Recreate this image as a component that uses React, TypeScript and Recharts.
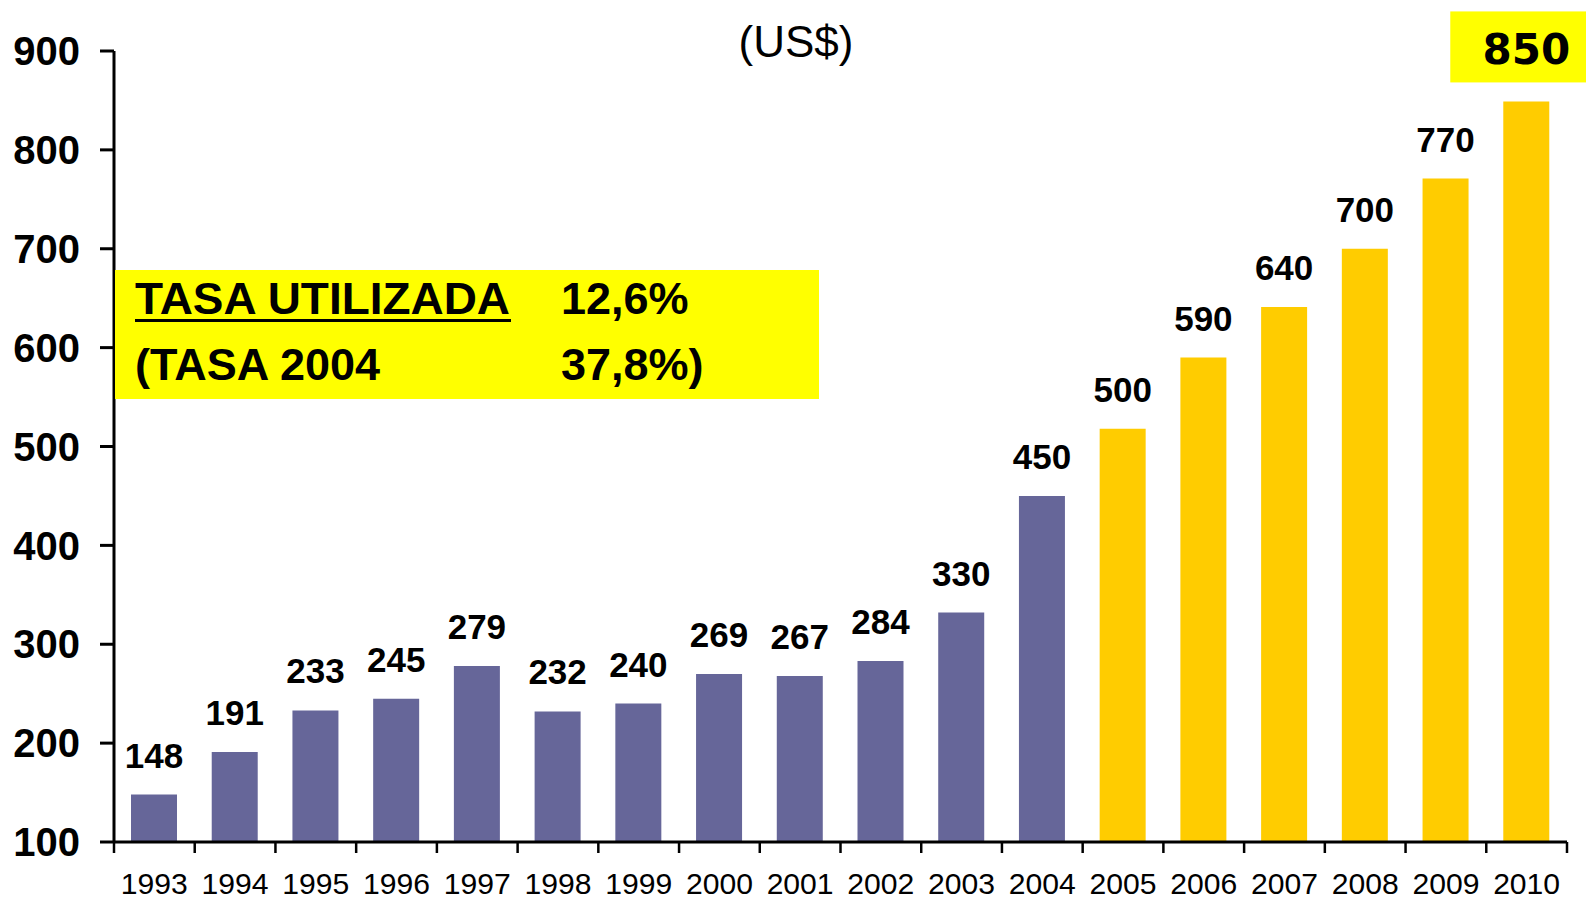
import React from 'react';
import { BarChart, Bar, XAxis, YAxis, Cell, LabelList } from 'recharts';

// ---- data ----
const years = ['1993', '1994', '1995', '1996', '1997', '1998', '1999', '2000', '2001', '2002', '2003', '2004', '2005', '2006', '2007', '2008', '2009', '2010'];
const values = [148, 191, 233, 245, 278, 232, 240, 270, 268, 283, 332, 450, 518, 590, 641, 700, 771, 849];
const valueLabels = ['148', '191', '233', '245', '279', '232', '240', '269', '267', '284', '330', '450', '500', '590', '640', '700', '770', '850'];
const firstProjectedYear = '2005';
const yTicks = [100, 200, 300, 400, 500, 600, 700, 800, 900];
const titleText = '(US$)';
const noteLabels = ['TASA UTILIZADA', '(TASA 2004'];
const noteValues = ['12,6%', '37,8%)'];

const HISTORIC = '#666699';
const PROJECTED = '#FFCC00';
const HIGHLIGHT = '#FFFF00';
const SANS = '"Liberation Sans", Arial, sans-serif';

const data = years.map((year, i) => ({ year, value: values[i], label: valueLabels[i] }));

const XTick = (props: any) => {
  const { x, y, payload, index } = props;
  const half = payload && typeof payload.offset === 'number' && payload.offset > 0 ? payload.offset : 40.36;
  const isLast = index === years.length - 1;
  return (
    <g>
      <line x1={x - half} x2={x - half} y1={y} y2={y + 11} stroke="#000" strokeWidth={2.5} />
      {isLast && <line x1={x + half} x2={x + half} y1={y} y2={y + 11} stroke="#000" strokeWidth={2.5} />}
      <text
        x={x}
        y={y + 52}
        textAnchor="middle"
        fontFamily={SANS}
        fontSize={30}
        fill="#000"
        textLength={67}
        lengthAdjust="spacingAndGlyphs"
      >
        {payload.value}
      </text>
    </g>
  );
};

const BarLabel = (props: any) => {
  const { x, y, width, value, index } = props;
  const cx = Number(x) + Number(width) / 2;
  const top = Number(y);
  const isLast = index === years.length - 1 || (index === undefined && value === valueLabels[valueLabels.length - 1]);
  if (isLast) {
    return (
      <g>
        <rect x={cx - 76} y={top - 90} width={140} height={71} fill={HIGHLIGHT} />
        <text
          x={cx}
          y={top - 37}
          textAnchor="middle"
          fontFamily='"DejaVu Sans", Verdana, sans-serif'
          fontWeight="bold"
          fontSize={42}
          fill="#000"
        >
          {value}
        </text>
      </g>
    );
  }
  return (
    <text x={cx} y={top - 27} textAnchor="middle" fontFamily={SANS} fontWeight="bold" fontSize={35} fill="#000">
      {value}
    </text>
  );
};

export default function App() {
  return (
    <div style={{ position: 'absolute', left: 0, top: 0, width: 1586, height: 902, overflow: 'hidden', background: '#fff' }}>
      <BarChart
        width={1586}
        height={902}
        data={data}
        margin={{ top: 51, right: 19, bottom: 0, left: 0 }}
      >
        <XAxis
          dataKey="year"
          height={60}
          interval={0}
          axisLine={{ stroke: '#000', strokeWidth: 3 }}
          tickLine={false}
          tickSize={0}
          tickMargin={0}
          tick={<XTick />}
        />
        <YAxis
          width={114}
          type="number"
          domain={[100, 900]}
          ticks={yTicks}
          interval={0}
          axisLine={{ stroke: '#000', strokeWidth: 3 }}
          tickLine={{ stroke: '#000', strokeWidth: 3 }}
          tickSize={14}
          tickMargin={20}
          tick={{ fill: '#000', fontSize: 40, fontWeight: 'bold', fontFamily: SANS }}
        />
        <Bar dataKey="value" barSize={46} isAnimationActive={false}>
          {data.map((d) => (
            <Cell key={d.year} fill={Number(d.year) >= Number(firstProjectedYear) ? PROJECTED : HISTORIC} />
          ))}
          <LabelList dataKey="label" content={<BarLabel />} />
        </Bar>
      </BarChart>
      <svg
        width={1586}
        height={902}
        style={{ position: 'absolute', left: 0, top: 0, pointerEvents: 'none' }}
      >
        <text x={796} y={57} textAnchor="middle" fontFamily={SANS} fontSize={44} fill="#000">
          {titleText}
        </text>
        <rect x={115} y={270} width={704} height={129} fill={HIGHLIGHT} />
        <text x={135} y={314} fontFamily={SANS} fontWeight="bold" fontSize={45} fill="#000" textLength={375} lengthAdjust="spacingAndGlyphs">
          {noteLabels[0]}
        </text>
        <line x1={135} x2={511} y1={320.5} y2={320.5} stroke="#000" strokeWidth={3} />
        <text x={561} y={314} fontFamily={SANS} fontWeight="bold" fontSize={45} fill="#000">
          {noteValues[0]}
        </text>
        <text x={135} y={380} fontFamily={SANS} fontWeight="bold" fontSize={45} fill="#000">
          {noteLabels[1]}
        </text>
        <text x={561} y={380} fontFamily={SANS} fontWeight="bold" fontSize={45} fill="#000">
          {noteValues[1]}
        </text>
      </svg>
    </div>
  );
}
